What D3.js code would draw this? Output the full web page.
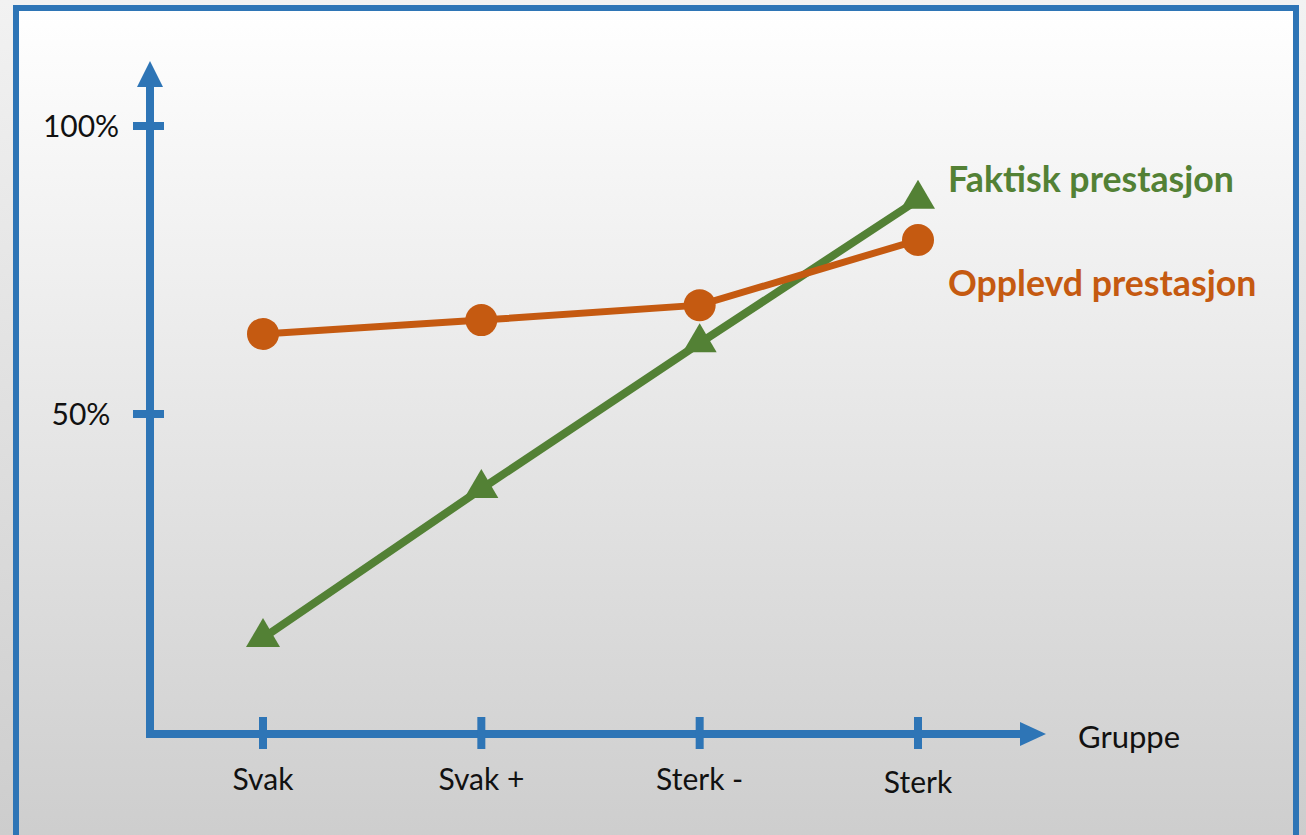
<!DOCTYPE html>
<html>
<head>
<meta charset="utf-8">
<script src="https://cdn.jsdelivr.net/npm/d3@7"></script>
<style>
  html, body { margin: 0; padding: 0; overflow: hidden; }
  svg { display: block; font-family: Lato, "Open Sans", sans-serif; }
</style>
</head>
<body>
<script>
// data (percent)
var groups = ["Svak", "Svak +", "Sterk -", "Sterk"];
var faktisk = [11.1, 37.0, 62.3, 87.2];
var opplevd = [63.9, 66.3, 68.9, 80.2];
var yTicks = [50, 100];
var seriesNames = ["Faktisk prestasjon", "Opplevd prestasjon"];
var xTitle = "Gruppe";

var W = 1306, H = 835;
var blue = "#2e75b6", green = "#538135", orange = "#c55a11";

var svg = d3.select("body").append("svg")
    .attr("width", W)
    .attr("height", H);

var defs = svg.append("defs");
var g1 = defs.append("linearGradient").attr("id", "bgOut").attr("x1", 0).attr("y1", 0).attr("x2", 0).attr("y2", 1);
g1.append("stop").attr("offset", "0%").attr("stop-color", "#f2f2f2");
g1.append("stop").attr("offset", "100%").attr("stop-color", "#cdcdcd");
var g2 = defs.append("linearGradient").attr("id", "bgIn").attr("x1", 0).attr("y1", 0).attr("x2", 0).attr("y2", 1);
g2.append("stop").attr("offset", "0%").attr("stop-color", "#ffffff");
g2.append("stop").attr("offset", "100%").attr("stop-color", "#cdcdcd");

svg.append("rect").attr("width", W).attr("height", H).attr("fill", "url(#bgOut)");
// frame
svg.append("rect")
    .attr("x", 16).attr("y", 8)
    .attr("width", 1280).attr("height", 840)
    .attr("fill", "url(#bgIn)")
    .attr("stroke", blue)
    .attr("stroke-width", 6);

// scales
var x = d3.scalePoint().domain(groups).range([263, 918]);
var y = d3.scaleLinear().domain([0, 100]).range([702, 126]);

var axisX0 = 146, axisY = 734, axisXEnd = 1046;
var axisLeft = 150, axisTop = 61;

var axes = svg.append("g").attr("class", "axes");
// y axis
axes.append("line")
    .attr("x1", axisLeft).attr("x2", axisLeft)
    .attr("y1", axisY + 4).attr("y2", axisTop + 24)
    .attr("stroke", blue).attr("stroke-width", 8);
axes.append("path")
    .attr("d", "M" + axisLeft + "," + axisTop + "L" + (axisLeft + 13) + "," + (axisTop + 26) + "L" + (axisLeft - 13) + "," + (axisTop + 26) + "Z")
    .attr("fill", blue);
// x axis
axes.append("line")
    .attr("x1", axisX0).attr("x2", axisXEnd - 24)
    .attr("y1", axisY).attr("y2", axisY)
    .attr("stroke", blue).attr("stroke-width", 8);
axes.append("path")
    .attr("d", "M" + axisXEnd + "," + axisY + "L" + (axisXEnd - 26) + "," + (axisY - 12) + "L" + (axisXEnd - 26) + "," + (axisY + 12) + "Z")
    .attr("fill", blue);

// y ticks
axes.selectAll(".ytick")
    .data(yTicks)
    .enter().append("line")
    .attr("class", "ytick")
    .attr("x1", axisLeft - 17).attr("x2", axisLeft + 14)
    .attr("y1", function(d) { return y(d); })
    .attr("y2", function(d) { return y(d); })
    .attr("stroke", blue).attr("stroke-width", 8);
axes.selectAll(".ylabel")
    .data(yTicks)
    .enter().append("text")
    .attr("class", "ylabel")
    .attr("x", 81)
    .attr("y", function(d) { return y(d) + 11; })
    .attr("text-anchor", "middle")
    .attr("font-size", 30)
    .attr("fill", "#111")
    .text(function(d) { return d + "%"; });

// x ticks
axes.selectAll(".xtick")
    .data(groups)
    .enter().append("line")
    .attr("class", "xtick")
    .attr("x1", function(d) { return x(d); })
    .attr("x2", function(d) { return x(d); })
    .attr("y1", axisY - 17).attr("y2", axisY + 15)
    .attr("stroke", blue).attr("stroke-width", 8);
axes.selectAll(".xlabel")
    .data(groups)
    .enter().append("text")
    .attr("class", "xlabel")
    .attr("x", function(d) { return x(d); })
    .attr("y", function(d, i) { return i == 3 ? 793 : 790; })
    .attr("text-anchor", "middle")
    .attr("font-size", 30)
    .attr("fill", "#111")
    .text(function(d) { return d; });

axes.append("text")
    .attr("x", 1078).attr("y", 748)
    .attr("font-size", 31)
    .attr("fill", "#111")
    .text(xTitle);

// lines
var line = d3.line()
    .x(function(d, i) { return x(groups[i]); })
    .y(function(d) { return y(d); });

svg.append("path")
    .datum(faktisk)
    .attr("d", line)
    .attr("fill", "none")
    .attr("stroke", green)
    .attr("stroke-width", 8);

// triangle marker, placed by its centroid
var tri = "M0,-20L17,9L-17,9Z";
svg.selectAll(".tri")
    .data(faktisk)
    .enter().append("path")
    .attr("class", "tri")
    .attr("transform", function(d, i) { return "translate(" + x(groups[i]) + "," + y(d) + ")"; })
    .attr("d", tri)
    .attr("fill", green);

svg.append("path")
    .datum(opplevd)
    .attr("d", line)
    .attr("fill", "none")
    .attr("stroke", orange)
    .attr("stroke-width", 7);

svg.selectAll(".dot")
    .data(opplevd)
    .enter().append("circle")
    .attr("class", "dot")
    .attr("cx", function(d, i) { return x(groups[i]); })
    .attr("cy", function(d) { return y(d); })
    .attr("r", 16)
    .attr("fill", orange);

// series labels
svg.append("text")
    .attr("x", 948).attr("y", 192)
    .attr("font-size", 35.7)
    .attr("font-weight", "bold")
    .attr("fill", green)
    .text(seriesNames[0]);
svg.append("text")
    .attr("x", 948).attr("y", 296)
    .attr("font-size", 35.7)
    .attr("font-weight", "bold")
    .attr("fill", orange)
    .text(seriesNames[1]);
</script>
</body>
</html>
